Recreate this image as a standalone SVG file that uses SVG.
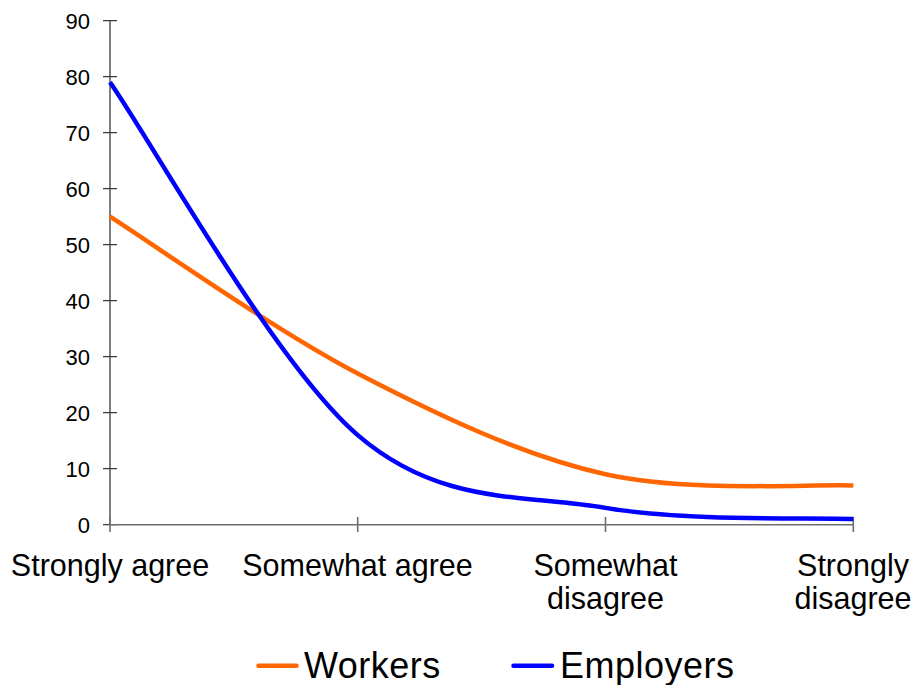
<svg xmlns="http://www.w3.org/2000/svg" width="915" height="685" viewBox="0 0 915 685">
<style>
.ax{stroke:#3a3a3a;stroke-width:1.3;fill:none}
.xax{stroke:#6e6e6e;stroke-width:1.6;fill:none}
.yl{font-family:"Liberation Sans",Arial,sans-serif;font-size:22px;fill:#000;text-anchor:end}
.cl{font-family:"Liberation Sans",Arial,sans-serif;font-size:30.5px;fill:#000;text-anchor:middle}
.lg{font-family:"Liberation Sans",Arial,sans-serif;font-size:36px;fill:#000;letter-spacing:0.5px}
.s{fill:none;stroke-width:4.5;stroke-linejoin:round}
.w{stroke:#FF6600}
.e{stroke:#0000FF}
</style>
<rect width="915" height="685" fill="#fff"/>
<g id="y-axis">
<line class="ax" x1="110" y1="20.7" x2="110" y2="524.7"/>
<path class="ax" d="M103 20.7H117M103 76.7H117M103 132.7H117M103 188.7H117M103 244.7H117M103 300.7H117M103 356.7H117M103 412.7H117M103 468.7H117M103 524.7H117"/>
<text class="yl" x="90" y="28.7">90</text>
<text class="yl" x="90" y="84.7">80</text>
<text class="yl" x="90" y="140.7">70</text>
<text class="yl" x="90" y="196.7">60</text>
<text class="yl" x="90" y="252.7">50</text>
<text class="yl" x="90" y="308.7">40</text>
<text class="yl" x="90" y="364.7">30</text>
<text class="yl" x="90" y="420.7">20</text>
<text class="yl" x="90" y="476.7">10</text>
<text class="yl" x="90" y="532.7">0</text>
</g>
<g id="x-axis">
<line class="xax" x1="110" y1="524.7" x2="853.3" y2="524.7"/>
<path class="xax" d="M110 517V532M357.7 517V532M605.5 517V532M853.3 517V532"/>
<text class="cl" x="110" y="576">Strongly agree</text>
<text class="cl" x="357.5" y="576">Somewhat agree</text>
<text class="cl" x="605.5" y="576">Somewhat</text>
<text class="cl" x="605.5" y="609">disagree</text>
<text class="cl" x="853" y="576">Strongly</text>
<text class="cl" x="853" y="609">disagree</text>
</g>
<g id="connectors">
<path id="workers" class="s w" d="M110 216.7C151.3 242.8 275.1 330.6 357.7 373.5C440.3 416.4 522.9 455.6 605.5 474.3C688.1 493 812 483.6 853.3 485.5"/>
<path id="employers" class="s e" d="M110 82.3C151.3 141.1 275.1 364.2 357.7 435.1C440.3 506 522.9 493.9 605.5 507.9C688.1 521.9 812 517.2 853.3 519.1"/>
</g>
<g id="legend">
<line x1="258.5" y1="665.7" x2="296.5" y2="665.7" stroke="#FF6600" stroke-width="4.5" stroke-linecap="round"/>
<text class="lg" x="304" y="678.3">Workers</text>
<line x1="513.5" y1="665.7" x2="552" y2="665.7" stroke="#0000FF" stroke-width="4.5" stroke-linecap="round"/>
<text class="lg" x="560" y="678.3">Employers</text>
</g>
</svg>
